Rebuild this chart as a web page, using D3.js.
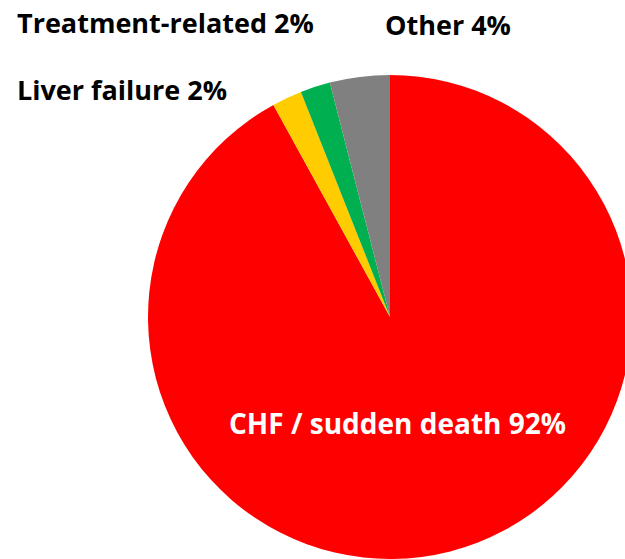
<!DOCTYPE html>
<html>
<head>
<meta charset="utf-8">
<script src="https://cdn.jsdelivr.net/npm/d3@7"></script>
<style>
  body { margin: 0; background: #fff; }
  text { font-family: "Open Sans", Lato, sans-serif; font-weight: bold; }
</style>
</head>
<body>
<script>
// slice data, clockwise from 12 o'clock
var causes = ["CHF / sudden death", "Liver failure", "Treatment-related", "Other"];
var shares = [92, 2, 2, 4];
var colors = ["#ff0000", "#ffcc00", "#00b050", "#808080"];

var width = 625, height = 559;
var cx = 390, cy = 317, radius = 242;

var svg = d3.select("body").append("svg")
  .attr("width", width)
  .attr("height", height);

var pie = d3.pie().sort(null).value(function(d) { return d; });
var arc = d3.arc().innerRadius(0).outerRadius(radius);

var g = svg.append("g").attr("transform", "translate(" + cx + "," + cy + ")");

g.selectAll("path")
  .data(pie(shares))
  .enter()
  .append("path")
  .attr("d", arc)
  .attr("fill", function(d, i) { return colors[i]; });

// labels: left x, baseline y, colour, font size
var labelPos = [[229, 434, "#fff", 28], [17, 100, "#000", 27], [17, 33, "#000", 27], [385, 35, "#000", 27]];

svg.selectAll("text.lbl")
  .data(causes)
  .enter()
  .append("text")
  .attr("class", "lbl")
  .attr("x", function(d, i) { return labelPos[i][0]; })
  .attr("y", function(d, i) { return labelPos[i][1]; })
  .attr("fill", function(d, i) { return labelPos[i][2]; })
  .style("font-size", function(d, i) { return labelPos[i][3] + "px"; })
  .text(function(d, i) { return d + " " + shares[i] + "%"; });
</script>
</body>
</html>
